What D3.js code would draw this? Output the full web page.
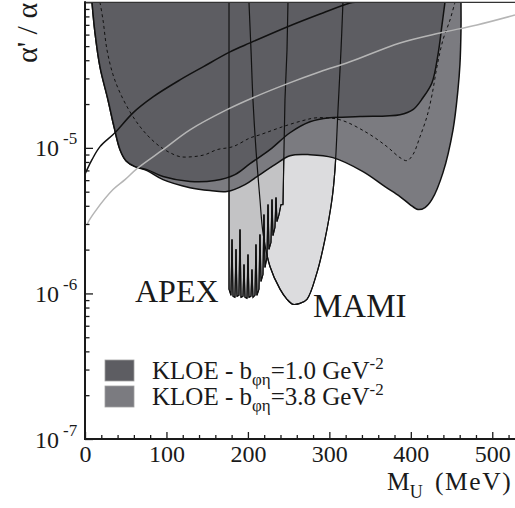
<!DOCTYPE html>
<html><head><meta charset="utf-8">
<script src="https://cdn.jsdelivr.net/npm/d3@7"></script>
<style>
body{margin:0;background:#fff}
svg{display:block}
text{font-family:"Liberation Serif","Times New Roman",serif;fill:#1a1a1a}
</style>
</head><body>
<svg id="c" width="515" height="508"></svg>
<script>
// ---------- data (mass in MeV, coupling ratio alpha'/alpha) ----------
const xMajorTicks = [0,100,200,300,400,500];
const yMajorExps = [-7,-6,-5,-4];

// KLOE b_phieta = 1.0 GeV^-2 : lower edge of excluded region
const kloeB10 = [[8.6,1e-4],[12.3,6.16e-5],[18.4,3.6e-5],[28.2,2.14e-5],[35.6,1.4e-5],[43.0,9.72e-6],[50.3,8.17e-6],[61.4,7.43e-6],[76.1,7.09e-6],[95.8,6.35e-6],[128.9,5.87e-6],[159.6,5.96e-6],[184.1,6.55e-6],[202.6,7.79e-6],[227.1,9.72e-6],[251.7,1.27e-5],[276.2,1.51e-5],[300.8,1.61e-5],[337.6,1.64e-5],[386.7,1.69e-5],[402.6,1.83e-5],[414.9,2.21e-5],[426.0,2.8e-5],[433.3,4.35e-5],[438.3,6.99e-5],[441.9,1e-4]];

// KLOE b_phieta = 3.8 GeV^-2 : lower edge of excluded region
const kloeB38 = [[8.6,1e-4],[12.3,6.16e-5],[18.4,3.6e-5],[28.2,2.14e-5],[35.6,1.4e-5],[43.0,9.72e-6],[50.3,8.17e-6],[61.4,7.43e-6],[76.1,6.98e-6],[95.8,6.05e-6],[128.9,5.33e-6],[153.4,5.09e-6],[174.3,5.01e-6],[196.4,5.59e-6],[211.1,6.35e-6],[233.2,7.67e-6],[251.7,8.84e-6],[276.2,8.98e-6],[304.4,8.57e-6],[341.3,6.87e-6],[368.3,5.42e-6],[386.7,4.63e-6],[399.0,4.08e-6],[408.8,3.77e-6],[417.4,3.89e-6],[426.0,4.42e-6],[439.5,6.76e-6],[451.8,1.33e-5],[457.9,2.51e-5],[460.3,3.72e-5],[461.6,6.46e-5],[461.6,1e-4]];

// dashed curve
const kloeDashed = [[18.4,1e-4],[22.1,7.56e-5],[27.0,4.71e-5],[34.4,3.18e-5],[43.0,2.39e-5],[55.2,1.77e-5],[67.5,1.4e-5],[79.8,1.17e-5],[92.1,1.02e-5],[104.3,9.27e-6],[116.6,8.7e-6],[132.6,8.7e-6],[147.3,8.98e-6],[162.0,9.72e-6],[181.7,1.02e-5],[202.6,1.17e-5],[214.8,1.23e-5],[243.1,1.4e-5],[267.6,1.54e-5],[284.8,1.61e-5],[313.0,1.56e-5],[346.2,1.27e-5],[370.7,1.02e-5],[386.7,8.57e-6],[395.3,8.17e-6],[402.6,8.98e-6],[411.2,1.19e-5],[419.8,1.64e-5],[426.0,2.31e-5],[432.1,3.6e-5],[439.5,5.52e-5],[448.1,7.56e-5],[454.2,1e-4]];

// black solid curve
const curveBlack = [[0,6.6e-6],[2.5,7.09e-6],[8.6,8.3e-6],[18.4,1.02e-5],[36.8,1.27e-5],[58.9,1.74e-5],[83.5,2.24e-5],[116.6,2.93e-5],[144.9,3.6e-5],[178.0,4.56e-5],[202.6,5.26e-5],[248.0,6.77e-5],[288.5,8.31e-5],[325.3,9.9e-5],[331.5,1e-4]];

// light grey curve
const curveGrey = [[3.0,2.98e-6],[3.7,3.07e-6],[12.3,3.65e-6],[34.4,5.17e-6],[49.1,6.05e-6],[63.8,7.2e-6],[95.8,9.72e-6],[128.9,1.33e-5],[174.3,1.83e-5],[206.2,2.21e-5],[248.0,2.75e-5],[288.5,3.33e-5],[325.3,3.9e-5],[386.7,5.26e-5],[435.8,6.16e-5],[481.2,6.99e-5],[527.9,8.18e-5]];

// APEX excluded region (closed outline)
const apex = [[176.8,1e-4],[176.8,1.07e-6],[179.2,9.7e-7],[180.5,2.35e-6],[181.7,9.55e-7],[184.1,9.4e-7],[185.4,2.01e-6],[186.6,9.55e-7],[189.0,9.7e-7],[190.3,2.75e-6],[191.5,9.4e-7],[194.0,9.55e-7],[195.2,1.58e-6],[196.4,9.4e-7],[198.9,9.26e-7],[200.1,1.85e-6],[201.3,9.4e-7],[203.8,9.55e-7],[205.0,1.46e-6],[206.2,9.4e-7],[208.7,9.7e-7],[209.9,2.17e-6],[211.1,9.7e-7],[213.6,1.07e-6],[214.8,2.54e-6],[216.1,1.21e-6],[218.5,1.35e-6],[219.7,3.48e-6],[221.0,1.51e-6],[223.4,1.77e-6],[224.7,4.08e-6],[225.9,2.01e-6],[228.3,2.24e-6],[229.6,4.42e-6],[230.8,2.5e-6],[233.2,2.84e-6],[234.5,4.56e-6],[235.7,3.12e-6],[238.2,3.48e-6],[240.6,4.08e-6],[243.1,4.08e-6],[244.3,9.72e-6],[245.5,2.14e-5],[248.0,4.71e-5],[249.2,1e-4]];

// MAMI excluded region (closed outline)
const mami = [[201.3,1e-4],[203.8,4.71e-5],[206.2,2.14e-5],[209.9,9.72e-6],[214.8,4.42e-6],[218.5,2.62e-6],[227.1,1.53e-6],[239.4,1.07e-6],[248.0,9.11e-7],[255.3,8.42e-7],[263.9,8.55e-7],[272.5,9.11e-7],[284.8,1.39e-6],[294.6,2.35e-6],[303.2,4.42e-6],[306.9,7.09e-6],[310.6,1.83e-5],[314.3,4.71e-5],[316.7,1e-4]];

const legendLabels = [
  {pre:"KLOE - b", sub:"φη", mid:"=1.0 GeV", sup:"-2", color:"#5d5d62"},
  {pre:"KLOE - b", sub:"φη", mid:"=3.8 GeV", sup:"-2", color:"#7b7b80"}
];

// ---------- drawing ----------
const svg = d3.select("#c");
const pL=85, pT=2.3, pB=439, pR=516.7;
const x = d3.scaleLinear().domain([0,530]).range([pL,pR]);
const y = d3.scaleLog().domain([1e-7,1e-4]).range([pB,pT]);

svg.append("defs").append("clipPath").attr("id","pa")
  .append("rect").attr("x",pL).attr("y",pT).attr("width",pR-pL).attr("height",pB-pT);
const g = svg.append("g").attr("clip-path","url(#pa)");

const smooth = d3.line().x(d=>x(d[0])).y(d=>y(d[1])).curve(d3.curveCatmullRom.alpha(0.5));
const straight = d3.line().x(d=>x(d[0])).y(d=>y(d[1]));

g.append("path").attr("d",smooth(mami)+"Z").attr("fill","#dcdcde").attr("stroke","#111").attr("stroke-width",1.2);
g.append("path").attr("d",straight(apex)+"Z").attr("fill","#c3c3c5").attr("stroke","#111").attr("stroke-width",1);
g.append("path").attr("d",smooth(kloeB38)+"Z").attr("fill","#7b7b80").attr("stroke","none");
g.append("path").attr("d",smooth(kloeB38)).attr("fill","none").attr("stroke","#111").attr("stroke-width",1.5);
g.append("path").attr("d",smooth(kloeB10)+"Z").attr("fill","#5d5d62").attr("stroke","none");
g.append("path").attr("d",smooth(kloeB10)).attr("fill","none").attr("stroke","#111").attr("stroke-width",1.5);
g.append("path").attr("d",smooth(mami)).attr("fill","none").attr("stroke","#111").attr("stroke-width",1.2);
g.append("path").attr("d",straight(apex)).attr("fill","none").attr("stroke","#111").attr("stroke-width",1.2);
g.append("path").attr("d",smooth(kloeDashed)).attr("fill","none").attr("stroke","#111").attr("stroke-width",1).attr("stroke-dasharray","3,3");
g.append("path").attr("d",smooth(curveBlack)).attr("fill","none").attr("stroke","#111").attr("stroke-width",1.5);
g.append("path").attr("d",smooth(curveGrey)).attr("fill","none").attr("stroke","#b5b5b5").attr("stroke-width",1.5);

// ---------- axes ----------
const xMinor = d3.range(0,531,20).filter(v=>v%100!==0);
const ax = svg.append("g").attr("transform",`translate(0,${pB})`);
ax.call(d3.axisBottom(x).tickValues(xMinor).tickSize(-4).tickFormat(""));
ax.select(".domain").remove();
const ax2 = svg.append("g").attr("transform",`translate(0,${pB})`);
ax2.call(d3.axisBottom(x).tickValues(xMajorTicks).tickSize(-7).tickPadding(6).tickFormat(d3.format("d")));
ax2.select(".domain").remove();
ax2.selectAll("text").attr("font-size",24).attr("font-family","Liberation Serif").attr("fill","#1a1a1a");

const yMinor = [];
yMajorExps.slice(0,-1).forEach(e=>{ for(let k=2;k<=9;k++) yMinor.push(k*Math.pow(10,e)); });
const ay = svg.append("g").attr("transform",`translate(${pL},0)`);
ay.call(d3.axisLeft(y).tickValues(yMinor).tickSize(-4.5).tickFormat(""));
ay.select(".domain").remove();
const ay2 = svg.append("g").attr("transform",`translate(${pL},0)`);
ay2.call(d3.axisLeft(y).tickValues(yMajorExps.map(e=>Math.pow(10,e))).tickSize(-8).tickFormat(""));
ay2.select(".domain").remove();
svg.selectAll(".tick line").attr("stroke","#1a1a1a").attr("stroke-width",1.3);

yMajorExps.slice(0,-1).forEach(e=>{
  const t = svg.append("text").attr("x",35).attr("y",y(Math.pow(10,e))+8.5).attr("font-size",24);
  t.append("tspan").text("10");
  t.append("tspan").attr("dx",4).attr("dy",-12).attr("font-size",17).text(String(e));
});

svg.append("line").attr("x1",pL).attr("x2",515).attr("y1",pT).attr("y2",pT).attr("stroke","#333").attr("stroke-width",1.3);
svg.append("line").attr("x1",pL).attr("x2",pL).attr("y1",pT-1).attr("y2",pB+1).attr("stroke","#1a1a1a").attr("stroke-width",2);
svg.append("line").attr("x1",pL-1).attr("x2",515).attr("y1",pB).attr("y2",pB).attr("stroke","#1a1a1a").attr("stroke-width",2);

const xt = svg.append("text").attr("x",387).attr("y",489.5).attr("font-size",25.5);
xt.append("tspan").text("M");
xt.append("tspan").attr("dy",8).attr("font-size",18).text("U");
xt.append("tspan").attr("x",435).attr("dy",-8).attr("letter-spacing",1.6).text("(MeV)");

svg.append("text").attr("transform","translate(37,63) rotate(-90)").attr("font-size",30).text("α' / α");

svg.append("text").attr("x",135).attr("y",302).attr("font-size",32).text("APEX");
svg.append("text").attr("x",313).attr("y",317).attr("font-size",33).text("MAMI");

legendLabels.forEach((L,i)=>{
  const yy = 360 + i*26;
  svg.append("rect").attr("x",105).attr("y",yy).attr("width",29).attr("height",21).attr("fill",L.color).attr("stroke","#a0a0a0").attr("stroke-width",0.8);
  const t = svg.append("text").attr("x",152).attr("y",yy+19).attr("font-size",25);
  t.append("tspan").text(L.pre);
  t.append("tspan").attr("dy",6).attr("font-size",17).text(L.sub);
  t.append("tspan").attr("dy",-6).text(L.mid);
  t.append("tspan").attr("dy",-10).attr("font-size",17).text(L.sup);
});
</script>
</body></html>
